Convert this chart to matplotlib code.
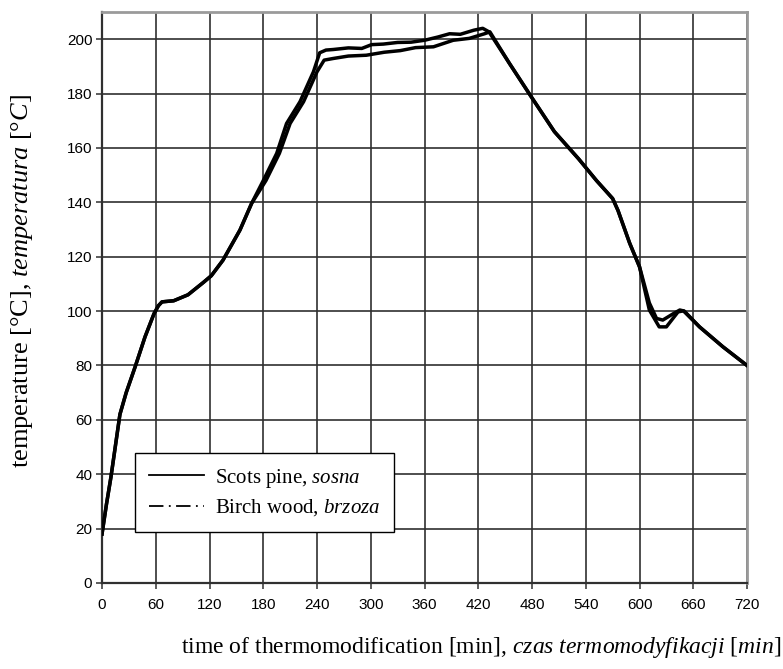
import matplotlib
matplotlib.use("Agg")
import matplotlib.pyplot as plt
from matplotlib.lines import Line2D

plt.rcParams.update({
    "font.family": "Liberation Serif",
    "mathtext.fontset": "custom",
    "mathtext.rm": "Liberation Serif",
    "mathtext.it": "Liberation Serif:italic",
})

# Scots pine (upper curve on the plateau)
pine_t = [0, 5, 10, 20, 27, 37, 48, 58, 63, 67, 80, 96, 113, 122, 135, 154, 167,
          180, 195, 206, 221, 236, 243, 250, 258, 275, 290, 301, 314, 330, 345, 360,
          375, 388, 400, 415, 425, 432, 455, 478, 505, 532, 552, 570, 576, 589, 600,
          611, 622, 630, 643, 649, 667, 693, 720]
pine_temp = [18, 29, 39, 62, 70, 79.5, 90.5, 99, 102, 103.4, 103.8, 106, 110.5, 113,
             118.7, 129.8, 139.6, 148, 158, 169, 177, 188, 195, 196, 196.2, 196.8,
             196.6, 198, 198.2, 198.8, 198.9, 199.6, 200.8, 202, 201.8, 203.3, 204, 202.7,
             191, 179.4, 166, 156, 148, 141.4, 137, 125, 116.3,
             100.4, 94.2, 94.2, 99.7, 100.1, 94.2, 86.9, 80]

# Birch wood (lower curve on the plateau)
birch_t = [0, 5, 10, 20, 27, 37, 48, 58, 63, 67, 80, 96, 113, 122, 135, 154, 167,
           183, 198, 210, 225, 240, 248, 258, 275, 295, 315, 333, 350, 370, 392, 410,
           427, 433, 455, 478, 505, 532, 552, 570, 576, 589, 600, 611, 619, 626, 638,
           645, 650, 667, 693, 720]
birch_temp = [18, 29, 39, 62, 70, 79.5, 90.5, 99, 102, 103.4, 103.8, 106, 110.5, 113,
              118.7, 129.8, 139.6, 148, 158, 169, 177, 188, 192.3, 192.9, 193.8, 194.1,
              195.2, 195.8, 196.9, 197.2, 199.6, 200.3, 202, 202.7, 191, 179.4, 166,
              156, 148, 141.4, 137, 125, 116.3, 103, 97.3, 96.7, 99.1, 100.4, 100,
              94.2, 86.9, 80]

x_ticks = list(range(0, 721, 60))
y_ticks = list(range(0, 201, 20))

fig = plt.figure(figsize=(7.83, 6.69), dpi=100)
ax = fig.add_axes([102 / 783, 1 - 583 / 669, 645 / 783, 571 / 669])

ax.plot(pine_t, pine_temp, '-', color='black', linewidth=2.5, zorder=3)
ax.plot(birch_t, birch_temp, '-', color='black', linewidth=2.5, zorder=3)

ax.set_xlim(0, 720)
ax.set_ylim(0, 210)
ax.set_xticks(x_ticks)
ax.set_yticks(y_ticks)
ax.grid(True, color='#303030', linewidth=1.2, zorder=1)
ax.set_axisbelow(True)
for s in ['left', 'bottom']:
    ax.spines[s].set_color('#303030')
    ax.spines[s].set_linewidth(1.6)
for s in ['top', 'right']:
    ax.spines[s].set_color('#9a9a9a')
    ax.spines[s].set_linewidth(2)
ax.tick_params(direction='out', length=4, width=1.1, color='#303030',
               labelsize=11, pad=3)
ax.tick_params(axis='x', pad=7)
for lab in ax.get_xticklabels() + ax.get_yticklabels():
    lab.set_family('Liberation Sans')

fig.text(22 / 783, 1 - 281 / 669,
         r"temperature [°C], $\mathit{temperatura\ [°C]}$",
         rotation=90, ha='center', va='center', fontsize=19)
fig.text(781 / 783, 1 - 647 / 669,
         r"time of thermomodification [min], $\mathit{czas\ termomodyfikacji\ [min]}$",
         ha='right', va='center', fontsize=17)

handles = [Line2D([], [], color='black', linewidth=1.3, linestyle='-'),
           Line2D([], [], color='black', linewidth=1.3, linestyle=(0, (8, 3, 1, 3)))]
leg = ax.legend(handles, [r"Scots pine, $\mathit{sosna}$", r"Birch wood, $\mathit{brzoza}$"],
                loc='lower left', bbox_to_anchor=(33 / 645, 51 / 571), borderaxespad=0,
                fontsize=15, frameon=True, fancybox=False, edgecolor='black',
                framealpha=1, handlelength=2.65, handletextpad=0.55,
                borderpad=0.65, labelspacing=0.38)
leg.get_frame().set_linewidth(1.0)
leg.set_zorder(5)

fig.savefig("out.png", dpi=100)
